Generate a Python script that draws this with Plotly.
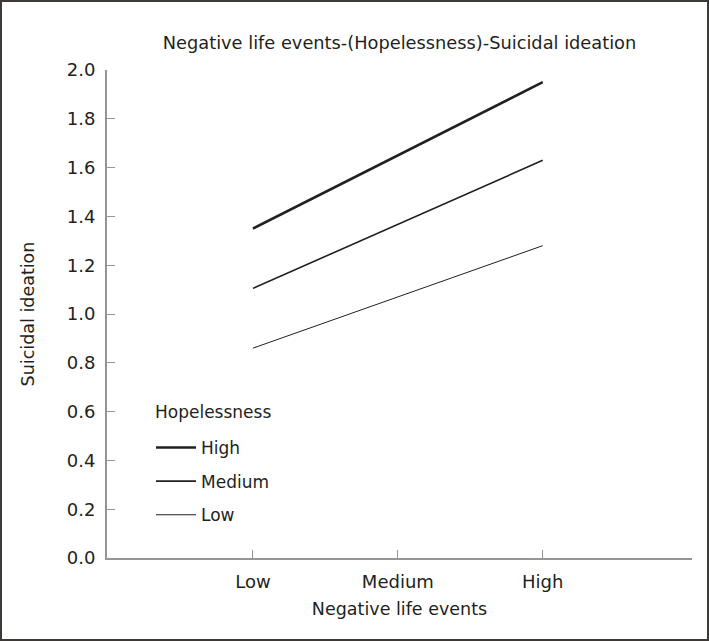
import plotly.graph_objects as go

# Data
categories = ["Low", "Medium", "High"]          # Negative life events
cat_pos = [0, 1, 2]
line_names = ["High", "Medium", "Low"]          # Hopelessness levels
x_points = ["Low", "High"]
high_vals = [1.35, 1.95]
medium_vals = [1.105, 1.63]
low_vals = [0.86, 1.28]
y_ticks = [0.0, 0.2, 0.4, 0.6, 0.8, 1.0, 1.2, 1.4, 1.6, 1.8, 2.0]

series = [high_vals, medium_vals, low_vals]
widths = [2.6, 1.6, 1.0]

TXT = "#231f20"
AX = "#939598"
FONT = "DejaVu Sans"

pos = {c: p for c, p in zip(categories, cat_pos)}

fig = go.Figure()
for i, (name, vals, w) in enumerate(zip(line_names, series, widths)):
    fig.add_trace(go.Scatter(
        x=[pos[c] for c in x_points], y=vals, mode="lines", name=name,
        line=dict(color=TXT, width=w), legendgroup=name,
    ))

W, H = 709, 641
L, R, T, B = 107, 17, 70, 83
pw, ph = W - L - R, H - T - B

def px_x(px):
    return (px - L) / pw

def px_y(py):
    return (H - B - py) / ph

fig.update_layout(
    width=W, height=H,
    margin=dict(l=L, r=R, t=T, b=B),
    paper_bgcolor="white", plot_bgcolor="white",
    font=dict(family=FONT, color=TXT, size=17),
    title=dict(text="Negative life events-(Hopelessness)-Suicidal ideation",
               x=0.5, xref="paper", xanchor="center", y=1 - 43 / H, yanchor="middle",
               font=dict(size=17.8, color=TXT, family=FONT)),
    showlegend=True,
    legend=dict(x=px_x(151), xanchor="left", y=px_y(430), yanchor="top",
                bgcolor="rgba(0,0,0,0)", font=dict(size=17, color=TXT),
                itemwidth=40, tracegroupgap=8.5, traceorder="grouped"),
    xaxis=dict(range=[-1.007, 3.03], tickvals=cat_pos, ticktext=categories,
               showline=True, linecolor=AX, linewidth=2, ticks="inside", ticklen=8,
               tickcolor=AX, tickwidth=1, showgrid=False, zeroline=False,
               tickfont=dict(size=18, color=TXT), fixedrange=True, ticklabelstandoff=6,
               title=dict(text="Negative life events", font=dict(size=17.5, color=TXT), standoff=12)),
    yaxis=dict(range=[0, 2.0], tickvals=y_ticks, ticktext=[f"{v:.1f}" for v in y_ticks],
               showline=True, linecolor=AX, linewidth=2, ticks="inside", ticklen=8,
               tickcolor=AX, tickwidth=1, showgrid=False, zeroline=False,
               tickfont=dict(size=18, color=TXT), fixedrange=True, ticklabelstandoff=6,
               title=dict(text="Suicidal ideation", font=dict(size=17.5, color=TXT), standoff=28)),
)

# Legend heading
fig.add_annotation(text="Hopelessness", xref="paper", yref="paper",
                   x=px_x(153), y=px_y(412), xanchor="left", yanchor="middle",
                   showarrow=False, font=dict(size=17, color=TXT))

# Outer frame around the whole figure
fig.add_shape(type="rect", xref="paper", yref="paper",
              x0=px_x(1), x1=px_x(W - 1), y0=px_y(H - 1), y1=px_y(1),
              line=dict(color="#3d3935", width=2), fillcolor="rgba(0,0,0,0)", layer="above")

fig.write_html("out.html", config={"displayModeBar": False},
               post_script="document.body.style.margin='0';document.body.style.overflow='hidden';")
